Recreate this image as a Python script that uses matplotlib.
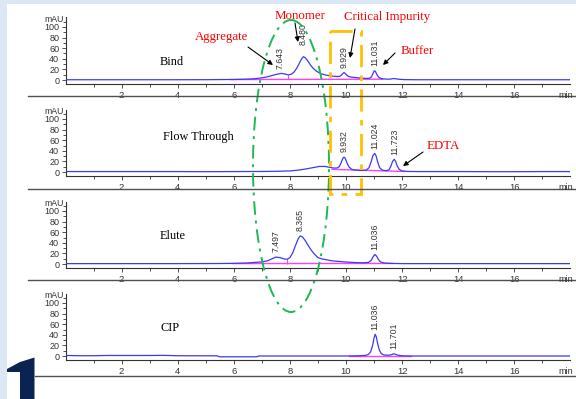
import matplotlib
matplotlib.use('Agg')
import matplotlib.pyplot as plt
from matplotlib.patches import Ellipse, Rectangle, Polygon
import numpy as np

plt.rcParams['font.family'] = ['Liberation Sans', 'DejaVu Sans']

# ---------------- data ----------------
x_major = [2, 4, 6, 8, 10, 12, 14, 16]
x_labels = ['2', '4', '6', '8', '10', '12', '14', '16']
x_minor = [1, 3, 5, 7, 9, 11, 13, 15, 17]
y_major = [0, 20, 40, 60, 80, 100]
y_minor = [10, 30, 50, 70, 90, 110]

panel_names = ['Bind', 'Flow Through', 'Elute', 'CIP']

bind_t = [0, 1, 2, 3, 4, 5, 5.5,
          6.0, 6.4, 6.7, 7.0, 7.2, 7.4, 7.55, 7.7, 7.85, 7.95,
          8.05, 8.15, 8.25, 8.35, 8.42, 8.48, 8.55, 8.65, 8.75, 8.85, 8.95,
          9.1, 9.3, 9.5, 9.7, 9.78, 9.84, 9.89, 9.93, 9.97,
          10.02, 10.08, 10.18, 10.35, 10.55, 10.75, 10.85, 10.91, 10.96,
          11.01, 11.05, 11.1, 11.16, 11.24, 11.35, 11.5, 11.62, 11.7, 11.78, 11.9,
          12.1, 12.5, 13, 14, 15, 16, 17, 18]
bind_v = [0.5, 0.5, 0.5, 0.5, 0.5, 0.6, 0.8,
          1.0, 1.5, 2.2, 4.0, 6.0, 9.0, 11.0, 12.5, 11.0, 9.5,
          11.0, 15, 23, 33, 40, 44, 42, 35, 27, 21, 16.5,
          12, 9, 7.5, 6.5, 7.0, 9.5, 12.5, 14, 12.5,
          9.5, 7, 5.5, 4.5, 3.5, 3.0, 3.5, 6, 12,
          17.5, 16, 10.5, 5.5, 3, 2, 1.5, 2, 2.8, 2.2, 1.3,
          0.7, 0.5, 0.5, 0.5, 0.5, 0.5, 0.5, 0.5]
bind_pink_t = [5.9, 11.3]
bind_pink_v = [0.8, 1.5]

ft_t = [0, 1, 2, 3, 4, 5, 6, 7, 7.5,
        8.0, 8.3, 8.6, 8.85, 9.05, 9.25, 9.4, 9.55, 9.68, 9.76,
        9.83, 9.89, 9.93, 9.97, 10.03, 10.1, 10.2, 10.35, 10.55, 10.72,
        10.82, 10.9, 10.96, 11.02, 11.07, 11.13, 11.2, 11.3, 11.42, 11.53,
        11.6, 11.66, 11.72, 11.77, 11.83, 11.9, 12.0, 12.2, 12.6, 13, 14, 15, 16, 17, 18]
ft_v = [0.8, 0.8, 0.8, 0.8, 0.8, 0.6, 0.8, 1, 1.3,
        2, 3.5, 6, 8.5, 10.5, 10.5, 9, 7.5, 7.5, 10,
        18, 26, 28, 26, 18, 10, 5, 3.5, 2.8, 3.5,
        8, 20, 31, 35, 31, 19, 8, 3.5, 2.5, 4,
        11, 20, 24, 20, 11, 5, 2, 1, 0.8, 0.8, 0.8, 0.6, 0.6, 0.8, 0.8]
ft_pink_t = [9.5, 12.1]
ft_pink_v = [5, 1]

el_t = [0, 1, 2, 3, 4, 5, 5.5, 6.0, 6.5,
        7.0, 7.2, 7.35, 7.5, 7.65, 7.8, 7.9, 8.0, 8.1, 8.2,
        8.3, 8.37, 8.45, 8.55, 8.65, 8.75, 8.85, 9.0, 9.15, 9.3,
        9.5, 9.7, 10.0, 10.3, 10.6, 10.8, 10.9, 10.97, 11.03, 11.09,
        11.15, 11.23, 11.35, 11.5, 11.7, 12.0, 13, 14, 15, 16, 17, 18]
el_v = [0.7, 0.7, 0.7, 0.7, 0.7, 0.8, 0.9, 1.2, 2,
        4, 6, 9.5, 13, 12, 9.5, 9, 12, 21, 35,
        48, 53, 51, 44, 35, 27, 20, 12, 9.5, 8,
        6, 5, 3.8, 2.8, 2.2, 3, 7, 14, 18, 15,
        9, 4, 2, 1.3, 1, 0.7, 0.7, 0.7, 0.7, 0.7, 0.7, 0.7]
el_pink_t = [5.95, 11.65]
el_pink_v = [0.8, 1.0]

cip_t = [0, 0.5, 1.0, 1.5, 2.0, 2.5, 3.0, 3.5, 4.0,
         5.4, 5.5, 6.8, 6.9, 8, 10.0, 10.5, 10.7, 10.8, 10.88,
         10.95, 11.0, 11.04, 11.08, 11.13, 11.19, 11.26, 11.35, 11.5, 11.6,
         11.66, 11.7, 11.75, 11.82, 11.9, 12.0, 12.3, 13, 14, 15, 16, 17, 18]
cip_v = [1, 0.5, 0.5, 1, 1, 1, 1, 1.2, 0.5,
         0.3, -1.5, -1.5, 0, 0, 0, 0.5, 1.2, 3, 8,
         20, 34, 41, 36, 23, 11, 4.5, 2, 1.5, 2,
         3.5, 4, 3.5, 2, 1, 0.3, 0, 0, 0, 0, 0, 0, 0]
cip_pink_t = [10.1, 12.3]
cip_pink_v = [0, 0]

bind_peaks = ['7.643', '8.480', '9.929', '11.031']
ft_peaks = ['9.932', '11.024', '11.723']
el_peaks = ['7.497', '8.365', '11.036']
cip_peaks = ['11.036', '11.701']

bind_marks = [7.95]
el_marks = [7.9]

# ---------------- layout helpers ----------------
W, H = 576, 399
fig = plt.figure(figsize=(5.76, 3.99), dpi=100)
fig.patch.set_facecolor('#dce7f5')

def fx(px):
    return px / W

def fy(py):
    return 1 - py / H

fig.add_artist(Rectangle((fx(7), 0), 1, fy(4), transform=fig.transFigure,
                         facecolor='white', edgecolor='none', zorder=-5))

BLUE = '#3a3af2'
PINK = '#ff3cff'
GREY = '#333333'
SCALE = 0.53  # px per mAU
X0, X1 = 65.5, 570.4

panels = [
    (bind_t, bind_v, bind_pink_t, bind_pink_v, bind_peaks, bind_marks, 80),
    (ft_t, ft_v, ft_pink_t, ft_pink_v, ft_peaks, [], 172),
    (el_t, el_v, el_pink_t, el_pink_v, el_peaks, el_marks, 264),
    (cip_t, cip_v, cip_pink_t, cip_pink_v, cip_peaks, [], 356),
]

label_pad = {'8.480': 22}

for (t, v, pt, pv, peaks, marks, y0) in panels:
    ax = fig.add_axes([fx(X0), fy(y0 + 4), fx(X1) - fx(X0), 66.5 / H])
    ax.set_xlim(0, (X1 - X0) / 28.05)
    ax.set_ylim(-4 / SCALE, 62.5 / SCALE)
    ax.patch.set_alpha(0)
    ax.plot(pt, pv, color=PINK, lw=1.0, zorder=2)
    ax.plot(t, v, color=BLUE, lw=0.9, zorder=3)
    for m in marks:
        ax.vlines(m, np.interp(m, pt, pv), np.interp(m, t, v), color=PINK, lw=0.8, zorder=2)
    for lab in peaks:
        rt = float(lab)
        yy = np.interp(rt, t, v) + label_pad.get(lab, 9)
        ax.text(rt, yy, lab, rotation=90, ha='center', va='bottom',
                fontsize=6.3, color=GREY, zorder=4)
    for s in ['top', 'right']:
        ax.spines[s].set_visible(False)
    for s in ['left', 'bottom']:
        ax.spines[s].set_color(GREY)
        ax.spines[s].set_linewidth(0.8)
    ax.set_xticks(x_major)
    ax.set_xticklabels(x_labels)
    ax.set_xticks(x_minor, minor=True)
    ax.set_yticks(y_major)
    ax.set_yticks(y_minor, minor=True)
    ax.tick_params(axis='both', which='major', length=3, width=0.6,
                   labelsize=6.5, colors=GREY, pad=1.5)
    ax.tick_params(axis='x', which='major', labelsize=6.8, pad=1.8)
    ax.tick_params(axis='both', which='minor', length=2, width=0.6, colors=GREY)

# ---------------- overlay ----------------
ov = fig.add_axes([0, 0, 1, 1], zorder=10)
ov.set_xlim(0, W)
ov.set_ylim(H, 0)
ov.axis('off')
ov.patch.set_alpha(0)

zero_lines = [80, 172, 264, 356]
sep_y = [95.6, 189, 280, 376]
sep_x0 = [28, 28, 28, 35]
name_pos = [(172, 62), (198, 137), (173, 236), (170, 328)]

for y0, sy, sx, name, (nx, ny) in zip(zero_lines, sep_y, sep_x0, panel_names, name_pos):
    ov.plot([sx, W], [sy, sy], color='#505050', lw=1.0)
    ov.text(64, y0 - 61, 'mAU', ha='right', va='center', fontsize=6.3, color=GREY)
    ov.text(566, y0 + 15, 'min', ha='center', va='center', fontsize=6.5, color=GREY)
    ov.text(nx, ny, name, ha='center', va='center', fontsize=8.8,
            family='Liberation Serif', color='black')

# green ellipse and orange box
ov.add_patch(Ellipse((291, 166), 76, 292, fill=False, edgecolor='#1db954',
                     lw=1.4, linestyle=(0, (7, 3, 1.5, 3))))
ov.add_patch(Rectangle((330, 30.5), 31, 163.5, fill=False, edgecolor='#ffc000',
                       lw=2.0, linestyle=(0, (8, 3, 2, 3))))

# red annotations
red_labels = [('Aggregate', 222, 37), ('Monomer', 300, 16),
              ('Critical Impurity', 387, 17), ('Buffer', 417, 51), ('EDTA', 443, 146)]
for txt, x, y in red_labels:
    ov.text(x, y, txt, ha='center', va='center', fontsize=9.3,
            family='Liberation Serif', color='#ff0000')

arrows = [((248, 47), (273, 65)), ((295, 23), (298, 42)), ((355, 29), (350, 58)),
          ((395, 53), (383, 65)), ((423, 152), (403, 166))]
for (x1, y1), (x2, y2) in arrows:
    ov.annotate('', xy=(x2, y2), xytext=(x1, y1),
                arrowprops=dict(arrowstyle='-|>', color='black', lw=0.8,
                                mutation_scale=7, shrinkA=0, shrinkB=0))

# partial logo glyph at bottom-left
ov.add_patch(Polygon([(34.5, 357.5), (20, 362), (7, 369), (7, 372), (20, 372),
                      (20, 399), (34.5, 399)], closed=True,
                     facecolor='#0b2352', edgecolor='none'))

fig.savefig('out.png', dpi=100, facecolor=fig.get_facecolor())
